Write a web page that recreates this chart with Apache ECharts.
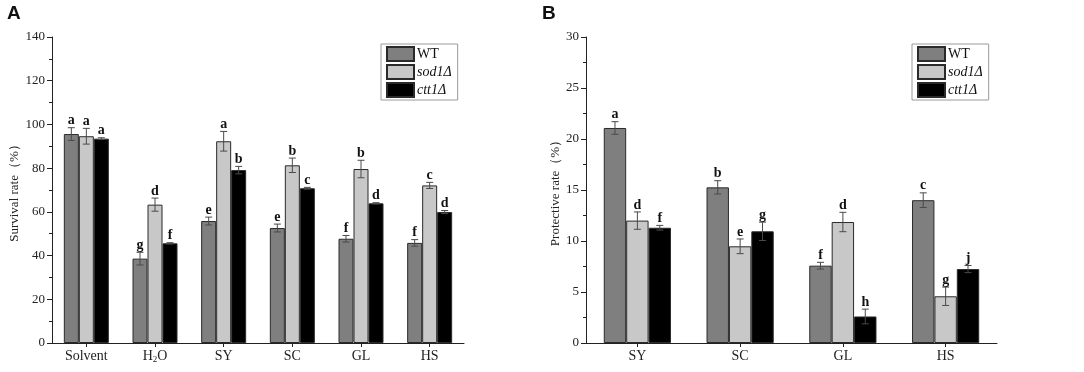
<!DOCTYPE html>
<html>
<head>
<meta charset="utf-8">
<script src="https://cdn.jsdelivr.net/npm/echarts@6/dist/echarts.min.js"></script>
<style>
  html, body { margin: 0; padding: 0; background: #fff; }
  #chart { width: 1084px; height: 372px; }
</style>
</head>
<body>
<div id="chart"></div>
<script>
// Panel A: survival rate
const catsA = ['Solvent', 'H2O', 'SY', 'SC', 'GL', 'HS'];
const wtA = [95.6, 38.6, 55.8, 52.6, 47.7, 45.8];
const sodA = [94.6, 63.3, 92.3, 81.3, 79.6, 72.1];
const cttA = [93.5, 45.6, 79.1, 70.8, 63.9, 59.9];
const wtErrA = [2.9, 2.9, 1.8, 1.8, 1.5, 1.5];
const sodErrA = [3.6, 3.0, 4.5, 3.3, 4.0, 1.4];
const cttErrA = [0.4, 0.3, 1.7, 0.4, 0.3, 0.7];
const wtLetA = ['a', 'g', 'e', 'e', 'f', 'f'];
const sodLetA = ['a', 'd', 'a', 'b', 'b', 'c'];
const cttLetA = ['a', 'f', 'b', 'c', 'd', 'd'];

// Panel B: protective rate
const catsB = ['SY', 'SC', 'GL', 'HS'];
const wtB = [21.08, 15.26, 7.58, 14.0];
const sodB = [12.0, 9.48, 11.86, 4.58];
const cttB = [11.3, 10.95, 2.6, 7.25];
const wtErrB = [0.62, 0.65, 0.33, 0.72];
const sodErrB = [0.85, 0.72, 0.95, 0.9];
const cttErrB = [0.23, 0.9, 0.72, 0.35];
const wtLetB = ['a', 'b', 'f', 'c'];
const sodLetB = ['d', 'e', 'd', 'g'];
const cttLetB = ['f', 'g', 'h', 'j'];

const names = ['WT', 'sod1Δ', 'ctt1Δ'];
const colors = ['#7f7f7f', '#c8c8c8', '#000000'];
const serif = '"Liberation Serif", "Times New Roman", serif';

const chart = echarts.init(document.getElementById('chart'));

function barSeries(name, color, values, axisIdx, bw) {
  return {
    name: name,
    type: 'bar',
    xAxisIndex: axisIdx,
    yAxisIndex: axisIdx,
    data: values,
    barWidth: bw,
    barGap: '0%',
    itemStyle: { color: color, borderColor: '#2a2a2a', borderWidth: 1 },
    emphasis: { disabled: true }
  };
}

function errSeries(values, errs, letters, k, axisIdx, bw) {
  return {
    type: 'custom',
    xAxisIndex: axisIdx,
    yAxisIndex: axisIdx,
    z: 5,
    silent: true,
    data: values.map((v, i) => [i, v, errs[i]]),
    renderItem: function (params, api) {
      const ci = api.value(0), v = api.value(1), e = api.value(2);
      const x = api.coord([ci, v])[0] + (k - 1) * bw;
      const top = api.coord([ci, v + e])[1];
      const bot = api.coord([ci, v - e])[1];
      const cap = 3.5;
      const ls = { stroke: '#4a4a4a', lineWidth: 1 };
      return {
        type: 'group',
        children: [
          { type: 'line', shape: { x1: x, y1: top, x2: x, y2: bot }, style: ls },
          { type: 'line', shape: { x1: x - cap, y1: top, x2: x + cap, y2: top }, style: ls },
          { type: 'line', shape: { x1: x - cap, y1: bot, x2: x + cap, y2: bot }, style: ls },
          {
            type: 'text',
            style: {
              text: letters[params.dataIndex],
              x: x, y: top,
              align: 'center', verticalAlign: 'bottom',
              font: 'bold 14px ' + serif, fill: '#111'
            }
          }
        ]
      };
    }
  };
}

function yAxisDef(gi, max, interval, title, gap) {
  return {
    gridIndex: gi,
    type: 'value',
    min: 0, max: max, interval: interval,
    name: title,
    nameLocation: 'middle',
    nameGap: gap,
    nameTextStyle: { fontFamily: serif, fontSize: 13, color: '#222' },
    axisLine: { show: true, lineStyle: { color: '#222', width: 1 } },
    axisTick: { show: true, inside: false, length: 5, lineStyle: { color: '#222' } },
    minorTick: { show: true, splitNumber: 2, length: 3, lineStyle: { color: '#222' } },
    splitLine: { show: false },
    axisLabel: { fontFamily: serif, fontSize: 13, color: '#222', margin: 7 }
  };
}

function xAxisDef(gi, cats) {
  return {
    gridIndex: gi,
    type: 'category',
    data: cats,
    axisLine: { lineStyle: { color: '#222', width: 1 } },
    axisTick: { show: true, alignWithLabel: true, interval: 0, length: 4, lineStyle: { color: '#222' } },
    axisLabel: {
      interval: 0,
      fontFamily: serif, fontSize: 14, color: '#222', margin: 5, lineHeight: 16,
      formatter: v => v === 'H2O' ? 'H{sub|2}O' : v,
      rich: { sub: { fontFamily: serif, fontSize: 9, lineHeight: 9, verticalAlign: 'bottom', color: '#222' } }
    }
  };
}

function legendDef(left) {
  return {
    orient: 'vertical',
    left: left, top: 44,
    data: names,
    itemWidth: 27, itemHeight: 14, itemGap: 2,
    icon: 'rect',
    padding: [2, 6, 2, 5],
    borderColor: '#9a9a9a', borderWidth: 1,
    selectedMode: false,
    textStyle: {
      fontFamily: serif, fontSize: 14, lineHeight: 14, color: '#111', padding: [0, 0, 0, -2],
      rich: { it: { fontFamily: serif, fontSize: 14, lineHeight: 14, fontStyle: 'italic', color: '#111' } }
    },
    formatter: n => n === 'WT' ? n : '{it|' + n + '}'
  };
}

const bwA = 15, bwB = 22.4;

chart.setOption({
  animation: false,
  backgroundColor: '#fff',
  graphic: [
    { type: 'text', left: 7, top: 4, style: { text: 'A', font: 'bold 19px "Liberation Sans", Arial, sans-serif', fill: '#111' } },
    { type: 'text', left: 542, top: 4, style: { text: 'B', font: 'bold 19px "Liberation Sans", Arial, sans-serif', fill: '#111' } }
  ],
  grid: [
    { left: 52, top: 37, width: 412, height: 306 },
    { left: 586, top: 37, width: 411, height: 306 }
  ],
  legend: [legendDef(381), legendDef(912)],
  xAxis: [xAxisDef(0, catsA), xAxisDef(1, catsB)],
  yAxis: [
    yAxisDef(0, 140, 20, 'Survival rate（%）', 31),
    yAxisDef(1, 30, 5, 'Protective rate（%）', 21)
  ],
  series: [
    barSeries(names[0], colors[0], wtA, 0, bwA),
    barSeries(names[1], colors[1], sodA, 0, bwA),
    barSeries(names[2], colors[2], cttA, 0, bwA),
    barSeries(names[0], colors[0], wtB, 1, bwB),
    barSeries(names[1], colors[1], sodB, 1, bwB),
    barSeries(names[2], colors[2], cttB, 1, bwB),
    errSeries(wtA, wtErrA, wtLetA, 0, 0, bwA),
    errSeries(sodA, sodErrA, sodLetA, 1, 0, bwA),
    errSeries(cttA, cttErrA, cttLetA, 2, 0, bwA),
    errSeries(wtB, wtErrB, wtLetB, 0, 1, bwB),
    errSeries(sodB, sodErrB, sodLetB, 1, 1, bwB),
    errSeries(cttB, cttErrB, cttLetB, 2, 1, bwB)
  ]
});
</script>
</body>
</html>
